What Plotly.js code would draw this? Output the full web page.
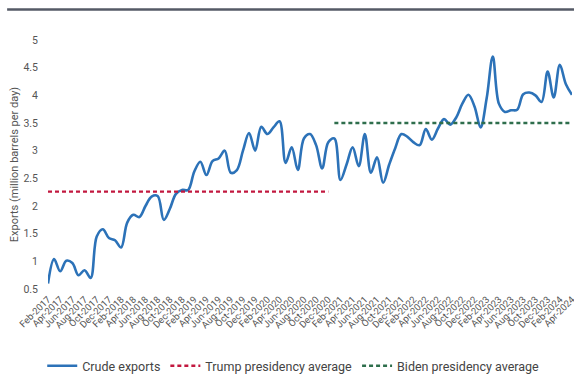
<!DOCTYPE html>
<html>
<head>
<meta charset="utf-8">
<script src="https://cdn.plot.ly/plotly-3.0.1.min.js"></script>
<style>html,body{margin:0;padding:0;background:#fff;}#chart{width:574px;height:376px;}</style>
</head>
<body>
<div id="chart"></div>
<script>
const months = [
 "Feb-2017","Mar-2017","Apr-2017","May-2017","Jun-2017","Jul-2017","Aug-2017","Sep-2017","Oct-2017","Nov-2017","Dec-2017",
 "Jan-2018","Feb-2018","Mar-2018","Apr-2018","May-2018","Jun-2018","Jul-2018","Aug-2018","Sep-2018","Oct-2018","Nov-2018","Dec-2018",
 "Jan-2019","Feb-2019","Mar-2019","Apr-2019","May-2019","Jun-2019","Jul-2019","Aug-2019","Sep-2019","Oct-2019","Nov-2019","Dec-2019",
 "Jan-2020","Feb-2020","Mar-2020","Apr-2020","May-2020","Jun-2020","Jul-2020","Aug-2020","Sep-2020","Oct-2020","Nov-2020","Dec-2020",
 "Jan-2021","Feb-2021","Mar-2021","Apr-2021","May-2021","Jun-2021","Jul-2021","Aug-2021","Sep-2021","Oct-2021","Nov-2021","Dec-2021",
 "Jan-2022","Feb-2022","Mar-2022","Apr-2022","May-2022","Jun-2022","Jul-2022","Aug-2022","Sep-2022","Oct-2022","Nov-2022","Dec-2022",
 "Jan-2023","Feb-2023","Mar-2023","Apr-2023","May-2023","Jun-2023","Jul-2023","Aug-2023","Sep-2023","Oct-2023","Nov-2023","Dec-2023",
 "Jan-2024","Feb-2024","Mar-2024","Apr-2024"
];
const crudeExports = [
 0.60,1.04,0.82,1.01,0.97,0.75,0.84,0.70,1.45,1.58,1.42,
 1.38,1.25,1.70,1.84,1.80,2.00,2.17,2.18,1.75,1.95,2.22,2.29,
 2.29,2.62,2.80,2.56,2.81,2.86,3.00,2.60,2.65,3.00,3.32,3.00,
 3.43,3.30,3.42,3.53,2.78,3.06,2.65,3.22,3.30,3.10,2.68,3.15,
 3.22,2.47,2.75,3.06,2.72,3.30,2.60,2.88,2.42,2.75,3.05,3.30,
 3.25,3.15,3.10,3.39,3.20,3.40,3.57,3.47,3.60,3.85,4.01,3.80,
 3.42,3.95,4.70,3.85,3.70,3.73,3.74,4.02,4.05,4.00,3.88,4.43,
 3.96,4.55,4.20,4.01
];
const tickLabels = [
 "Feb-2017","Apr-2017","Jun-2017","Aug-2017","Oct-2017","Dec-2017","Feb-2018","Apr-2018","Jun-2018","Aug-2018","Oct-2018","Dec-2018",
 "Feb-2019","Apr-2019","Jun-2019","Aug-2019","Oct-2019","Dec-2019","Feb-2020","Apr-2020","Jun-2020","Aug-2020","Oct-2020","Dec-2020",
 "Feb-2021","Apr-2021","Jun-2021","Aug-2021","Oct-2021","Dec-2021","Feb-2022","Apr-2022","Jun-2022","Aug-2022","Oct-2022","Dec-2022",
 "Feb-2023","Apr-2023","Jun-2023","Aug-2023","Oct-2023","Dec-2023","Feb-2024","Apr-2024"
];
const trumpPeriod = ["Feb-2017","Dec-2020"];
const trumpAverage = [2.26, 2.26];
const bidenPeriod = ["Jan-2021","Apr-2024"];
const bidenAverage = [3.5, 3.5];

const traces = [
 {x: months, y: crudeExports, type:'scatter', mode:'lines', name:'Crude exports',
  line:{color:'#2c72b8', width:2.6, shape:'spline', smoothing:1}},
 {x: trumpPeriod, y: trumpAverage, type:'scatter', mode:'lines', name:'Trump presidency average',
  line:{color:'#c2183f', width:2.4, dash:'4px,3px'}},
 {x: bidenPeriod, y: bidenAverage, type:'scatter', mode:'lines', name:'Biden presidency average',
  line:{color:'#2e6e4c', width:2.4, dash:'4px,3px'}}
];

const layout = {
 width:574, height:376,
 margin:{l:48, r:2, t:40, b:87, autoexpand:false},
 paper_bgcolor:'#fff', plot_bgcolor:'#fff',
 font:{family:'Roboto, sans-serif', color:'#555'},
 showlegend:true,
 legend:{orientation:'h', x:0.468, xanchor:'center', y:-0.31, yanchor:'middle',
   font:{size:12.5, color:'#444'}, itemwidth:30, tracegroupgap:0},
 xaxis:{type:'category', categoryorder:'array', categoryarray: months, automargin:false,
   range:[0, months.length-1], tickmode:'array', tickvals: tickLabels, ticktext: tickLabels,
   tickangle:-45, tickfont:{size:9.5, color:'#555'}, showgrid:false, zeroline:false,
   showline:false, ticks:'', ticklabelstandoff:2},
 yaxis:{range:[0.5,5], automargin:false, tickvals:[0.5,1,1.5,2,2.5,3,3.5,4,4.5,5],
   ticktext:['0.5','1','1.5','2','2.5','3','3.5','4','4.5','5'],
   tickfont:{size:10.5, color:'#555'}, showgrid:false, zeroline:false, showline:false,
   ticklabelstandoff:9,
   title:{text:'Exports (million barrels per day)', font:{size:11, color:'#555'}, standoff:2}},
 shapes:[{type:'line', xref:'paper', yref:'paper', x0:-0.078, x1:1.01, y0:1.122, y1:1.122,
   line:{color:'#555a66', width:2.5}}]
};

Plotly.newPlot('chart', traces, layout, {displayModeBar:false, staticPlot:true});
</script>
</body>
</html>
